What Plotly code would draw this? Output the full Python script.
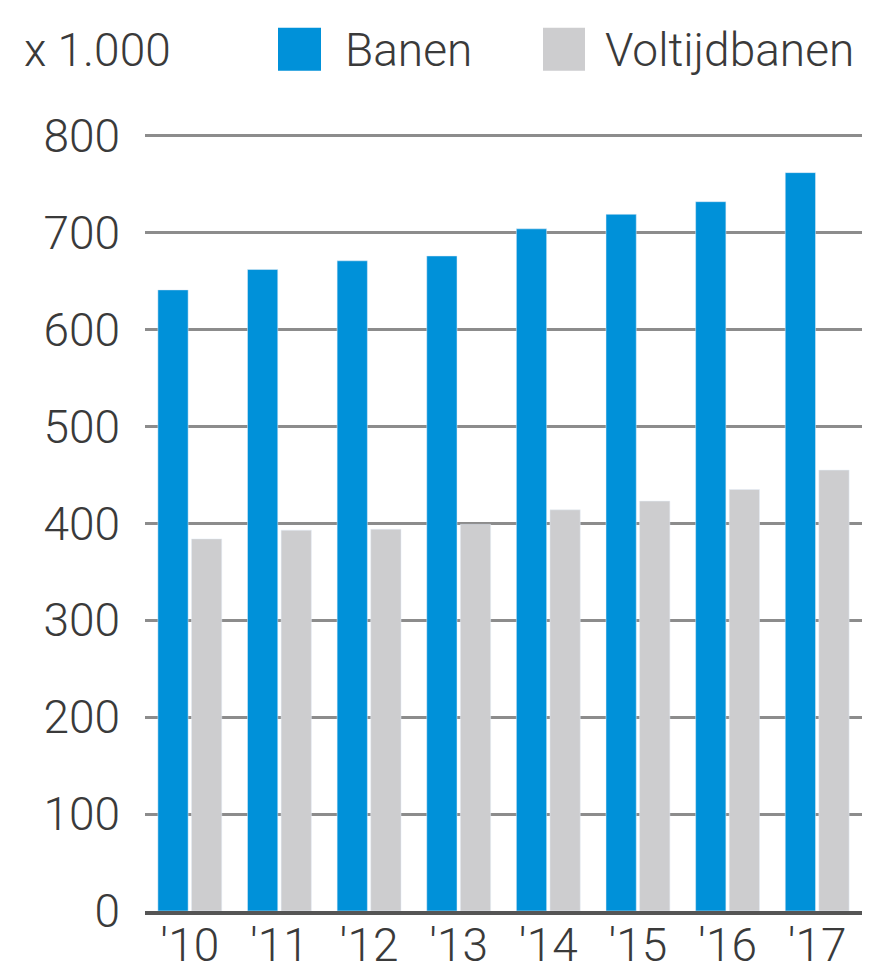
import plotly.graph_objects as go

# Jaren en aantallen banen (x 1.000)
years = ["'10", "'11", "'12", "'13", "'14", "'15", "'16", "'17"]
banen = [641, 662, 671, 676, 704, 719, 732, 762]
voltijdbanen = [384, 393, 394, 399, 414, 423, 435, 455]
y_ticks = [0, 100, 200, 300, 400, 500, 600, 700, 800]

blue = '#0091d9'
grey = '#cdcdcf'
font_family = 'Roboto, sans-serif'
text_color = '#3a3a3a'

# de pagina heeft 8px body-marge, dus alles 8px terugschuiven
OFF = 8
L, R, TOP0, BOT0 = 145 - OFF, 862 - OFF, 136 - OFF, 911 - OFF
scale = (BOT0 - TOP0) / 800
y_max = 806
top = BOT0 - y_max * scale

fig = go.Figure()
fig.add_trace(go.Bar(x=years, y=banen, name='Banen', marker_color=blue))
fig.add_trace(go.Bar(x=years, y=voltijdbanen, name='Voltijdbanen', marker_color=grey))

fig.update_layout(
    width=882, height=971,
    margin=dict(l=L, r=882 - R, t=top, b=971 - BOT0),
    paper_bgcolor='white', plot_bgcolor='white',
    barmode='group', bargap=0.25, bargroupgap=0.1,
    showlegend=False,
    font=dict(family=font_family, color=text_color, size=46, weight=300),
)
fig.update_yaxes(
    range=[0, y_max], tickvals=y_ticks, showgrid=True, gridcolor='#8c8c8c', gridwidth=3,
    zeroline=False, showline=False, ticks='', ticklabelstandoff=24, automargin=False,
    tickfont=dict(size=46, family=font_family, color=text_color, weight=300),
)
fig.update_xaxes(
    showline=True, linecolor='#555555', linewidth=4, ticks='', ticklabelstandoff=-9,
    automargin=False,
    tickfont=dict(size=46, family=font_family, color=text_color, weight=300),
)

# Eenheid en legenda bovenaan (posities in paginapixels)
def px_x(p):
    return (p - OFF - L) / (R - L)

def px_y(p):
    return (BOT0 - (p - OFF)) / (BOT0 - top)

fig.add_annotation(x=px_x(22), y=px_y(50), xref='paper', yref='paper', text='x 1.000',
                   showarrow=False, xanchor='left', yanchor='middle',
                   font=dict(size=46, family=font_family, color=text_color, weight=300))
for x0, x1, color, label, tx in [(278, 321, blue, 'Banen', 343), (543, 585, grey, 'Voltijdbanen', 603)]:
    fig.add_shape(type='rect', xref='paper', yref='paper', x0=px_x(x0), x1=px_x(x1),
                  y0=px_y(71), y1=px_y(28), fillcolor=color, line_width=0)
    fig.add_annotation(x=px_x(tx), y=px_y(50), xref='paper', yref='paper', text=label,
                       showarrow=False, xanchor='left', yanchor='middle',
                       font=dict(size=46, family=font_family, color=text_color, weight=300))

fig.write_html('out.html')
